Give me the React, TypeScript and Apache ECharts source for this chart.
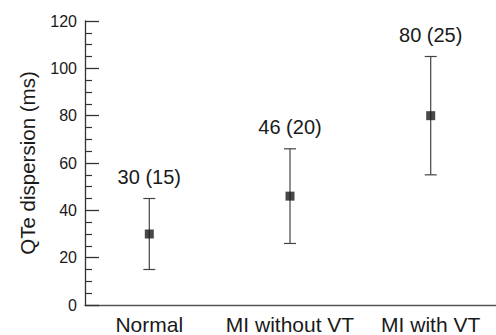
import React, { useEffect, useRef } from "react";
import * as echarts from "echarts";

const categories = ["Normal", "MI without VT", "MI with VT"];
const means = [30, 46, 80];
const sds = [15, 20, 25];
const yTicks = [0, 20, 40, 60, 80, 100, 120];

export default function App() {
  const ref = useRef<HTMLDivElement>(null);
  useEffect(() => {
    if (!ref.current) return;
    const chart = echarts.init(ref.current, undefined, { renderer: "svg" });
    const font = "'Liberation Sans', Arial, Helvetica, sans-serif";
    const errData = means.map((m, i) => [i, m - sds[i], m + sds[i], m, sds[i]]);
    chart.setOption({
      animation: false,
      grid: { left: 85, right: 0, top: 21, bottom: 30, containLabel: false },
      xAxis: {
        type: "value",
        min: -0.457,
        max: 2.464,
        splitLine: { show: false },
        axisTick: { show: false },
        axisLine: { show: true, onZero: false, lineStyle: { color: "#555", width: 1.3 } },
        axisLabel: {
          customValues: [0, 1, 2],
          formatter: (v: number) => categories[Math.round(v)] ?? "",
          fontSize: 21,
          fontFamily: font,
          color: "#1a1a1a",
          margin: 9,
          showMinLabel: true,
          showMaxLabel: true,
        },
      },
      yAxis: {
        type: "value",
        min: yTicks[0],
        max: yTicks[yTicks.length - 1],
        interval: 20,
        name: "QTe dispersion (ms)",
        nameLocation: "middle",
        nameGap: 47,
        nameTextStyle: { fontSize: 20.5, fontFamily: font, color: "#1a1a1a" },
        splitLine: { show: false },
        axisLine: { show: true, onZero: false, lineStyle: { color: "#333", width: 1.3 } },
        axisTick: { show: true, inside: true, length: 14, lineStyle: { color: "#333", width: 1.3 } },
        minorTick: { show: true, splitNumber: 4, length: 7, lineStyle: { color: "#333", width: 1.2 } },
        axisLabel: { fontSize: 16, fontFamily: font, color: "#1a1a1a", margin: 8 },
      },
      series: [
        {
          type: "custom",
          data: errData,
          encode: { x: 0, y: [1, 2] },
          renderItem: (params: any, api: any) => {
            const x = api.value(0);
            const lo = api.coord([x, api.value(1)]);
            const hi = api.coord([x, api.value(2)]);
            const hw = 6;
            const st = { stroke: "#444", lineWidth: 1.2 };
            return {
              type: "group",
              children: [
                { type: "line", shape: { x1: hi[0], y1: hi[1], x2: lo[0], y2: lo[1] }, style: st },
                { type: "line", shape: { x1: hi[0] - hw, y1: hi[1], x2: hi[0] + hw, y2: hi[1] }, style: st },
                { type: "line", shape: { x1: lo[0] - hw, y1: lo[1], x2: lo[0] + hw, y2: lo[1] }, style: st },
                {
                  type: "text",
                  x: hi[0],
                  y: hi[1] - 12,
                  style: {
                    text: `${api.value(3)} (${api.value(4)})`,
                    textAlign: "center",
                    textVerticalAlign: "bottom",
                    fontSize: 20,
                    fontFamily: font,
                    fill: "#1a1a1a",
                  },
                },
              ],
            };
          },
          z: 2,
        },
        {
          type: "scatter",
          data: means.map((m, i) => [i, m]),
          symbol: "rect",
          symbolSize: 9,
          itemStyle: { color: "#1a1a1a" },
          z: 3,
        },
      ],
    });
    return () => chart.dispose();
  }, []);
  return <div ref={ref} style={{ width: 496, height: 335, position: "absolute", left: 0, top: 0 }} />;
}
